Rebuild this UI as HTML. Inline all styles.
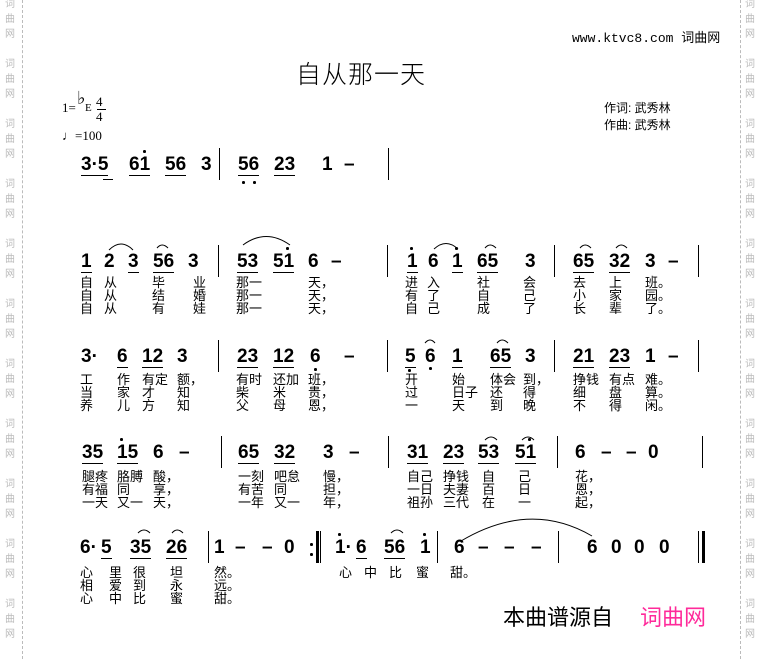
<!DOCTYPE html>
<html><head><meta charset="utf-8"><style>
body{margin:0;width:757px;height:659px;background:#fff;position:relative;overflow:hidden;font-family:"Liberation Sans","Noto Sans CJK SC",sans-serif;color:#000}
.n{position:absolute;font:bold 19px "Liberation Sans",sans-serif;line-height:20px;white-space:pre}
.u{border-bottom:1.5px solid #000;padding-bottom:0}
.l{position:absolute;font-size:13px;line-height:13px;white-space:pre;font-family:"Liberation Sans","Noto Sans CJK SC",sans-serif}
.b{position:absolute;width:1.2px;background:#000}
.d{position:absolute;width:2.5px;height:2.5px;background:#000;border-radius:50%}
.w{position:absolute;font-size:10px;color:#bbb;line-height:15px;width:12px;text-align:center}
</style></head><body>
<div style="position:absolute;left:22px;top:0;height:659px;border-left:1px dashed #bbb"></div>
<div style="position:absolute;left:740px;top:0;height:659px;border-left:1px dashed #bbb"></div>
<div class="w" style="left:4px;top:-3px">词<br>曲<br>网<br><br>词<br>曲<br>网<br><br>词<br>曲<br>网<br><br>词<br>曲<br>网<br><br>词<br>曲<br>网<br><br>词<br>曲<br>网<br><br>词<br>曲<br>网<br><br>词<br>曲<br>网<br><br>词<br>曲<br>网<br><br>词<br>曲<br>网<br><br>词<br>曲<br>网</div>
<div class="w" style="left:744px;top:-3px">词<br>曲<br>网<br><br>词<br>曲<br>网<br><br>词<br>曲<br>网<br><br>词<br>曲<br>网<br><br>词<br>曲<br>网<br><br>词<br>曲<br>网<br><br>词<br>曲<br>网<br><br>词<br>曲<br>网<br><br>词<br>曲<br>网<br><br>词<br>曲<br>网<br><br>词<br>曲<br>网</div>

<div style="position:absolute;left:572px;top:27px;font:13px 'Liberation Mono','Noto Sans CJK SC',monospace">www.ktvc8.com <span style="font-family:'Noto Sans CJK SC',sans-serif">词曲网</span></div>
<div style="position:absolute;left:296px;top:55px;font:300 25px 'Noto Sans CJK SC',sans-serif;letter-spacing:1px">自从那一天</div>
<div style="position:absolute;left:62px;top:100px;font:13px 'Liberation Serif',serif">1=</div>
<div style="position:absolute;left:77px;top:88px;font:18px 'Liberation Serif',serif">♭</div>
<div style="position:absolute;left:85px;top:102px;font:11px 'Liberation Serif',serif">E</div>
<div style="position:absolute;left:96px;top:94px;font:13px 'Liberation Serif',serif;line-height:15px;text-align:center">4<br>4</div>
<div style="position:absolute;left:97px;top:109px;width:9px;border-top:1px solid #000"></div>
<div style="position:absolute;left:62px;top:128px;font:13px 'Liberation Serif',serif">♩=100</div>
<div style="position:absolute;left:604px;top:100px;font-size:12px;line-height:17px">作词: 武秀林<br>作曲: 武秀林</div>

<!-- Row 1 -->
<span class="n u" style="left:81px;top:155px">3·5</span>
<div style="position:absolute;left:103px;top:179px;width:10px;border-top:1.5px solid #000"></div>
<span class="n u" style="left:129px;top:155px">61</span><div class="d" style="left:143px;top:150px"></div>
<span class="n u" style="left:165px;top:155px">56</span>
<span class="n" style="left:201px;top:155px">3</span>
<div class="b" style="left:219px;top:148px;height:32px"></div>
<span class="n u" style="left:238px;top:155px">56</span><div class="d" style="left:242px;top:181px"></div><div class="d" style="left:253px;top:181px"></div>
<span class="n u" style="left:274px;top:155px">23</span>
<span class="n" style="left:322px;top:155px">1</span>
<span class="n" style="left:344px;top:155px">–</span>
<div class="b" style="left:388px;top:148px;height:32px"></div>

<!-- Row 2 -->
<span class="n u" style="left:81px;top:252px">1</span>
<span class="n" style="left:104px;top:252px">2</span>
<span class="n u" style="left:128px;top:252px">3</span>
<span class="n u" style="left:153px;top:252px">56</span>
<span class="n" style="left:188px;top:252px">3</span>
<div class="b" style="left:218px;top:245px;height:32px"></div>
<span class="n u" style="left:237px;top:252px">53</span>
<span class="n u" style="left:273px;top:252px">51</span><div class="d" style="left:286px;top:247px"></div>
<span class="n" style="left:308px;top:252px">6</span>
<span class="n" style="left:331px;top:252px">–</span>
<div class="b" style="left:387px;top:245px;height:32px"></div>
<span class="n u" style="left:407px;top:252px">1</span><div class="d" style="left:410px;top:247px"></div>
<span class="n" style="left:428px;top:252px">6</span>
<span class="n u" style="left:452px;top:252px">1</span><div class="d" style="left:455px;top:247px"></div>
<span class="n u" style="left:477px;top:252px">65</span>
<span class="n" style="left:525px;top:252px">3</span>
<div class="b" style="left:554px;top:245px;height:32px"></div>
<span class="n u" style="left:573px;top:252px">65</span>
<span class="n u" style="left:609px;top:252px">32</span>
<span class="n" style="left:645px;top:252px">3</span>
<span class="n" style="left:668px;top:252px">–</span>
<div class="b" style="left:698px;top:245px;height:32px"></div>

<span class="l" style="left:80px;top:276px">自<br>自<br>自</span>
<span class="l" style="left:104px;top:276px">从<br>从<br>从</span>
<span class="l" style="left:152px;top:276px">毕<br>结<br>有</span>
<span class="l" style="left:193px;top:276px">业<br>婚<br>娃</span>
<span class="l" style="left:236px;top:276px">那一<br>那一<br>那一</span>
<span class="l" style="left:308px;top:276px">天，<br>天，<br>天，</span>
<span class="l" style="left:405px;top:276px">进<br>有<br>自</span>
<span class="l" style="left:427px;top:276px">入<br>了<br>己</span>
<span class="l" style="left:477px;top:276px">社<br>自<br>成</span>
<span class="l" style="left:523px;top:276px">会<br>己<br>了</span>
<span class="l" style="left:573px;top:276px">去<br>小<br>长</span>
<span class="l" style="left:609px;top:276px">上<br>家<br>辈</span>
<span class="l" style="left:645px;top:276px">班。<br>园。<br>了。</span>

<!-- Row 3 -->
<span class="n" style="left:81px;top:347px">3·</span>
<span class="n u" style="left:117px;top:347px">6</span>
<span class="n u" style="left:142px;top:347px">12</span>
<span class="n" style="left:177px;top:347px">3</span>
<div class="b" style="left:218px;top:340px;height:32px"></div>
<span class="n u" style="left:237px;top:347px">23</span>
<span class="n u" style="left:273px;top:347px">12</span>
<span class="n" style="left:310px;top:347px">6</span><div class="d" style="left:314px;top:368px"></div>
<span class="n" style="left:344px;top:347px">–</span>
<div class="b" style="left:387px;top:340px;height:32px"></div>
<span class="n u" style="left:405px;top:347px">5</span><div class="d" style="left:408px;top:369px"></div>
<span class="n" style="left:425px;top:347px">6</span><div class="d" style="left:429px;top:367px"></div>
<span class="n u" style="left:452px;top:347px">1</span>
<span class="n u" style="left:490px;top:347px">65</span>
<span class="n" style="left:525px;top:347px">3</span>
<div class="b" style="left:554px;top:340px;height:32px"></div>
<span class="n u" style="left:573px;top:347px">21</span>
<span class="n u" style="left:609px;top:347px">23</span>
<span class="n" style="left:645px;top:347px">1</span>
<span class="n" style="left:668px;top:347px">–</span>
<div class="b" style="left:698px;top:340px;height:32px"></div>

<span class="l" style="left:80px;top:373px">工<br>当<br>养</span>
<span class="l" style="left:117px;top:373px">作<br>家<br>儿</span>
<span class="l" style="left:142px;top:373px">有定<br>才<br>方</span>
<span class="l" style="left:177px;top:373px">额，<br>知<br>知</span>
<span class="l" style="left:236px;top:373px">有时<br>柴<br>父</span>
<span class="l" style="left:273px;top:373px">还加<br>米<br>母</span>
<span class="l" style="left:308px;top:373px">班，<br>贵，<br>恩，</span>
<span class="l" style="left:405px;top:373px">开<br>过<br>一</span>
<span class="l" style="left:452px;top:373px">始<br>日子<br>天</span>
<span class="l" style="left:490px;top:373px">体会<br>还<br>到</span>
<span class="l" style="left:523px;top:373px">到，<br>得<br>晚</span>
<span class="l" style="left:573px;top:373px">挣钱<br>细<br>不</span>
<span class="l" style="left:609px;top:373px">有点<br>盘<br>得</span>
<span class="l" style="left:645px;top:373px">难。<br>算。<br>闲。</span>

<!-- Row 4 -->
<span class="n u" style="left:82px;top:443px">35</span>
<span class="n u" style="left:117px;top:443px">15</span><div class="d" style="left:120px;top:438px"></div>
<span class="n" style="left:153px;top:443px">6</span>
<span class="n" style="left:179px;top:443px">–</span>
<div class="b" style="left:221px;top:436px;height:32px"></div>
<span class="n u" style="left:238px;top:443px">65</span>
<span class="n u" style="left:274px;top:443px">32</span>
<span class="n" style="left:323px;top:443px">3</span>
<span class="n" style="left:349px;top:443px">–</span>
<div class="b" style="left:388px;top:436px;height:32px"></div>
<span class="n u" style="left:407px;top:443px">31</span>
<span class="n u" style="left:443px;top:443px">23</span>
<span class="n u" style="left:478px;top:443px">53</span>
<span class="n u" style="left:515px;top:443px">51</span><div class="d" style="left:528px;top:438px"></div>
<div class="b" style="left:557px;top:436px;height:32px"></div>
<span class="n" style="left:575px;top:443px">6</span>
<span class="n" style="left:601px;top:443px">–</span>
<span class="n" style="left:626px;top:443px">–</span>
<span class="n" style="left:648px;top:443px">0</span>
<div class="b" style="left:702px;top:436px;height:32px"></div>

<span class="l" style="left:82px;top:470px">腿疼<br>有福<br>一天</span>
<span class="l" style="left:117px;top:470px">胳膊<br>同<br>又一</span>
<span class="l" style="left:153px;top:470px">酸，<br>享，<br>天，</span>
<span class="l" style="left:238px;top:470px">一刻<br>有苦<br>一年</span>
<span class="l" style="left:274px;top:470px">吧怠<br>同<br>又一</span>
<span class="l" style="left:323px;top:470px">慢，<br>担，<br>年，</span>
<span class="l" style="left:407px;top:470px">自己<br>一日<br>祖孙</span>
<span class="l" style="left:443px;top:470px">挣钱<br>夫妻<br>三代</span>
<span class="l" style="left:482px;top:470px">自<br>百<br>在</span>
<span class="l" style="left:518px;top:470px">己<br>日<br>一</span>
<span class="l" style="left:575px;top:470px">花，<br>恩，<br>起，</span>

<!-- Row 5 -->
<span class="n" style="left:80px;top:538px">6·</span><span class="n u" style="left:101px;top:538px">5</span>
<span class="n u" style="left:130px;top:538px">35</span>
<span class="n u" style="left:166px;top:538px">26</span>
<div class="b" style="left:208px;top:531px;height:32px"></div>
<span class="n" style="left:214px;top:538px">1</span>
<span class="n" style="left:235px;top:538px">–</span>
<span class="n" style="left:262px;top:538px">–</span>
<span class="n" style="left:284px;top:538px">0</span>
<div class="d" style="left:310px;top:543px"></div><div class="d" style="left:310px;top:553px"></div>
<div class="b" style="left:316px;top:531px;height:32px;width:2.5px"></div>
<div class="b" style="left:320px;top:531px;height:32px"></div>
<span class="n" style="left:335px;top:538px">1·</span><div class="d" style="left:338px;top:533px"></div><span class="n u" style="left:356px;top:538px">6</span>
<span class="n u" style="left:384px;top:538px">56</span>
<span class="n" style="left:420px;top:538px">1</span><div class="d" style="left:423px;top:533px"></div>
<div class="b" style="left:437px;top:531px;height:32px"></div>
<span class="n" style="left:454px;top:538px">6</span>
<span class="n" style="left:478px;top:538px">–</span>
<span class="n" style="left:504px;top:538px">–</span>
<span class="n" style="left:531px;top:538px">–</span>
<div class="b" style="left:558px;top:531px;height:32px"></div>
<span class="n" style="left:587px;top:538px">6</span>
<span class="n" style="left:611px;top:538px">0</span>
<span class="n" style="left:634px;top:538px">0</span>
<span class="n" style="left:659px;top:538px">0</span>
<div class="b" style="left:698px;top:531px;height:32px"></div>
<div class="b" style="left:702px;top:531px;height:32px;width:3px"></div>

<span class="l" style="left:80px;top:566px">心<br>相<br>心</span>
<span class="l" style="left:109px;top:566px">里<br>爱<br>中</span>
<span class="l" style="left:133px;top:566px">很<br>到<br>比</span>
<span class="l" style="left:170px;top:566px">坦<br>永<br>蜜</span>
<span class="l" style="left:214px;top:566px">然。<br>远。<br>甜。</span>
<span class="l" style="left:339px;top:566px">心</span>
<span class="l" style="left:364px;top:566px">中</span>
<span class="l" style="left:389px;top:566px">比</span>
<span class="l" style="left:416px;top:566px">蜜</span>
<span class="l" style="left:450px;top:566px">甜。</span>

<div style="position:absolute;left:503px;top:600px;font:22px 'Noto Sans CJK SC',sans-serif">本曲谱源自</div>
<div style="position:absolute;left:640px;top:600px;font:22px 'Noto Sans CJK SC',sans-serif;color:#ff2a9a">词曲网</div>

<svg width="757" height="659" style="position:absolute;left:0;top:0" fill="none" stroke="#000" stroke-width="1">
<path d="M109 250 Q121 238 133 250"/>
<path d="M157 248 Q162 242 168 248"/>
<path d="M243 245 Q266 228 290 245"/>
<path d="M434 249 Q446 238 458 249"/>
<path d="M485 248 Q490 242 496 248"/>
<path d="M580 248 Q585 242 591 248"/>
<path d="M616 248 Q621 242 627 248"/>
<path d="M425 343 Q430 337 435 343"/>
<path d="M497 343 Q502 337 508 343"/>
<path d="M485 440 Q491 434 497 440"/>
<path d="M522 440 Q528 434 534 440"/>
<path d="M138 533 Q144 527 150 533"/>
<path d="M172 533 Q177 527 183 533"/>
<path d="M391 533 Q397 527 403 533"/>
<path d="M461 541 Q530 500 592 536"/>
</svg>
</body></html>
